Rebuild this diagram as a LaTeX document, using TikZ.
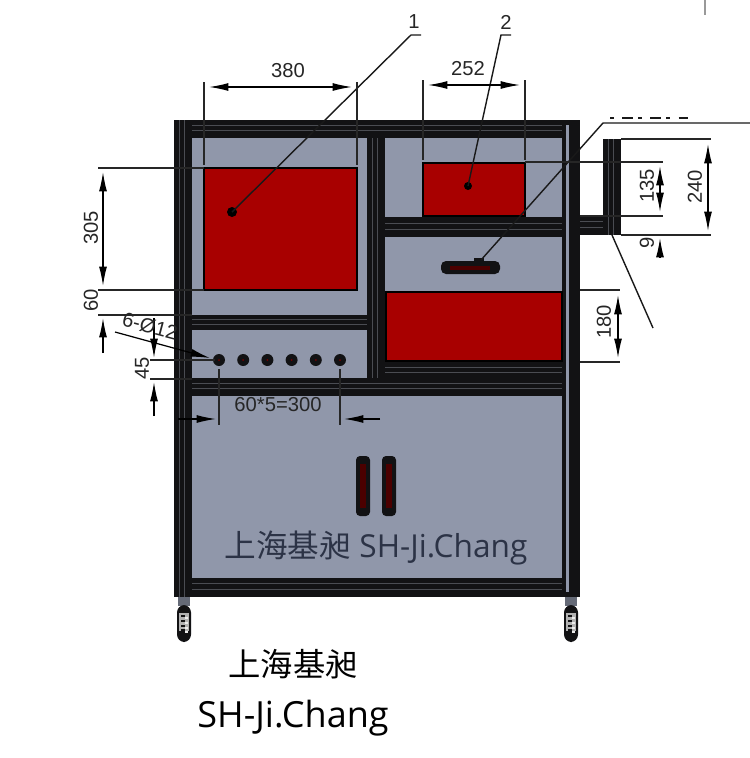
\documentclass[tikz,border=0pt]{standalone}
\usepackage{fontspec}
\setmainfont{Open Sans}
\newfontfamily\cjk{Noto Sans CJK SC}
\newfontfamily\dimfont{Liberation Sans}
\usetikzlibrary{arrows.meta}
\definecolor{panelgray}{HTML}{9097AA}
\definecolor{boxred}{HTML}{A80000}
\definecolor{railblack}{HTML}{121214}
\definecolor{railline}{HTML}{4A4C52}
\definecolor{stamptext}{HTML}{2C3346}
% rails of the frame: corner, corner
\newcommand{\railh}[4]{
  \fill[railblack] (#1,#2) rectangle (#3,#4);
  \draw[railline,line width=.4pt] (#1,{#2+.3*(#4-#2)}) -- (#3,{#2+.3*(#4-#2)});
  \draw[railline,line width=.4pt] (#1,{#2+.6*(#4-#2)}) -- (#3,{#2+.6*(#4-#2)});
}
\newcommand{\railv}[4]{
  \fill[railblack] (#1,#2) rectangle (#3,#4);
  \draw[railline,line width=.4pt] ({#1+.3*(#3-#1)},#2) -- ({#1+.3*(#3-#1)},#4);
  \draw[railline,line width=.4pt] ({#1+.6*(#3-#1)},#2) -- ({#1+.6*(#3-#1)},#4);
}
\newcommand{\castor}[1]{
  \fill[panelgray!70!black] ({#1-6},597) rectangle ({#1+6},606);
  \fill[railblack,rounded corners=1.5mm] ({#1-7},605) rectangle ({#1+7},642);
  \fill[gray!60] ({#1-5},613) rectangle ({#1+5},631);
  \foreach \sy in {615,620,625,629} {
    \fill[railblack] ({#1-3},\sy) rectangle ({#1+1},{\sy+2});
    \fill[white!85!gray] ({#1+1},{\sy+2}) rectangle ({#1+4},{\sy+4});
  }
}
\tikzset{
  dimtext/.style={font=\dimfont\fontsize{11.5}{12}\selectfont,text=black!85,inner sep=0pt},
  extline/.style={line width=.7pt,black!85},
  dimline/.style={line width=.7pt,black,arrows={-Latex[length=11pt,width=4.5pt]}},
  dimboth/.style={line width=.7pt,black,arrows={Latex[length=11pt,width=4.5pt]-Latex[length=11pt,width=4.5pt]}},
  leader/.style={line width=.8pt,black!90},
  redbox/.style={fill=boxred,draw=black,line width=1.2pt},
}
\begin{document}
\begin{tikzpicture}[x=0.02cm,y=-0.02cm]
  \useasboundingbox (0,0) rectangle (750,758);
  % panels
  \fill[panelgray] (192,138) rectangle (562,578);
  % frame
  \railh{385}{217}{562}{237}
  \railh{192}{315}{367}{330}
  \railh{385}{362}{562}{380}
  \railv{367}{138}{385}{380}
  \railh{192}{378}{562}{396}
  \railh{192}{578}{562}{597}
  \railh{174}{120}{580}{138}
  \railv{174}{120}{192}{597}
  \fill[railblack] (562,120) rectangle (580,597);
  \fill[panelgray] (566,125) rectangle (569,592);
  % side arm
  \railh{580}{216}{621}{235}
  \railv{603}{139}{621}{235}
  % castors
  \castor{184}
  \castor{571}
  % red parts
  \path[redbox] (204,168) rectangle (357,290);
  \path[redbox] (423,163) rectangle (525,216);
  \path[redbox] (386,292) rectangle (562,361);
  % drawer handle
  \fill[railblack] (474,258) rectangle (484,264);
  \fill[railblack,rounded corners=1mm] (441,261) rectangle (500,274);
  \fill[boxred!45!black] (450,266) rectangle (490,270);
  % door handles
  \foreach \hx in {356,382} {
    \fill[railblack,rounded corners=.8mm] (\hx,456) rectangle ({\hx+14},516);
    \fill[boxred!45!black] ({\hx+4},464) rectangle ({\hx+10},508);
  }
  % holes
  \foreach \i in {0,...,5} {
    \path[fill=railblack] ({219+24.2*\i},360) circle (.12cm);
    \path[fill=boxred!70!black] ({219+24.2*\i},360) circle (.02cm);
  }
  % leaders
  \path[fill=black] (232,212) circle (.1cm);
  \path[fill=black] (468,186) circle (.08cm);
  \draw[leader] (232,212) -- (411,35) -- (421,35);
  \draw[leader] (468,186) -- (501,35) -- (511,35);
  \draw[leader] (481,260) -- (603,123) -- (750,123);
  \draw[leader] (612,235) -- (653,328);
  \draw[leader,line width=1.2pt,dash pattern=on 2pt off 5pt on 6pt off 3pt] (610,118) -- (688,118);
  \draw[black!40,line width=.7pt] (705,0) -- (705,15);
  \node[dimtext] (leadone) at (414,22) {1};
  \node[dimtext] (leadtwo) at (506,22) {2};
  % 380 and 252
  \draw[extline] (204,82) -- (204,165);
  \draw[extline] (357,82) -- (357,165);
  \draw[dimboth] (209,87) -- (352,87);
  \node[dimtext] (widthred) at (288,71) {380};
  \draw[extline] (423,80) -- (423,160);
  \draw[extline] (525,80) -- (525,160);
  \draw[dimboth] (428,85) -- (520,85);
  \node[dimtext] (widthsmall) at (468,69) {252};
  % 305 and 60
  \draw[extline] (98,168) -- (204,168);
  \draw[extline] (98,290) -- (204,290);
  \draw[extline] (98,315) -- (192,315);
  \draw[dimboth] (103,172) -- (103,286);
  \draw[dimline] (103,353) -- (103,318);
  \node[dimtext,rotate=90] (heightred) at (91,228) {305};
  \node[dimtext,rotate=90] (heightgap) at (91,300) {60};
  % 45
  \draw[extline] (150,360) -- (215,360);
  \draw[extline] (150,379) -- (192,379);
  \draw[dimline] (154,318) -- (154,358);
  \draw[dimline] (154,416) -- (154,382);
  \node[dimtext,rotate=90] (holeheight) at (142,368) {45};
  % holes callout
  \draw[dimline,line width=.7pt] (115,332) -- (210,358);
  \node[dimtext,rotate=-15] (holesize) at (150,326) {6-Ø12};
  % 60*5
  \draw[extline] (219,369) -- (219,425);
  \draw[extline] (340,369) -- (340,425);
  \draw[dimline] (178,419) -- (216,419);
  \draw[dimline] (380,419) -- (344,419);
  \node[dimtext] (holepitch) at (278,405) {60*5=300};
  % right side
  \draw[extline] (525,162) -- (663,162);
  \draw[extline] (580,216) -- (663,216);
  \draw[extline] (621,139) -- (711,139);
  \draw[extline] (621,235) -- (711,235);
  \draw[extline] (580,290) -- (620,290);
  \draw[extline] (580,362) -- (620,362);
  \draw[dimboth] (660,166) -- (660,212);
  \draw[dimline] (660,257) -- (660,238);
  \draw[dimboth] (708,144) -- (708,231);
  \draw[dimboth] (618,295) -- (618,358);
  \node[dimtext,rotate=90] (armlow) at (647,186) {135};
  \node[dimtext,rotate=90] (armthick) at (647,243) {9};
  \node[dimtext,rotate=90] (armhigh) at (695,187) {240};
  \node[dimtext,rotate=90] (heightlow) at (604,322) {180};
  % names
  \node[inner sep=0pt,text=stamptext,font=\fontsize{18}{20}\selectfont] (stamp) at (376,548) {{\cjk 上海基昶} SH-Ji.Chang};
  \node[inner sep=0pt,font=\cjk\fontsize{18.4}{20}\selectfont] (namecn) at (293,664) {上海基昶};
  \node[inner sep=0pt,font=\fontsize{20.5}{22}\selectfont] (nameen) at (293,718) {SH-Ji.Chang};
\end{tikzpicture}
\end{document}
